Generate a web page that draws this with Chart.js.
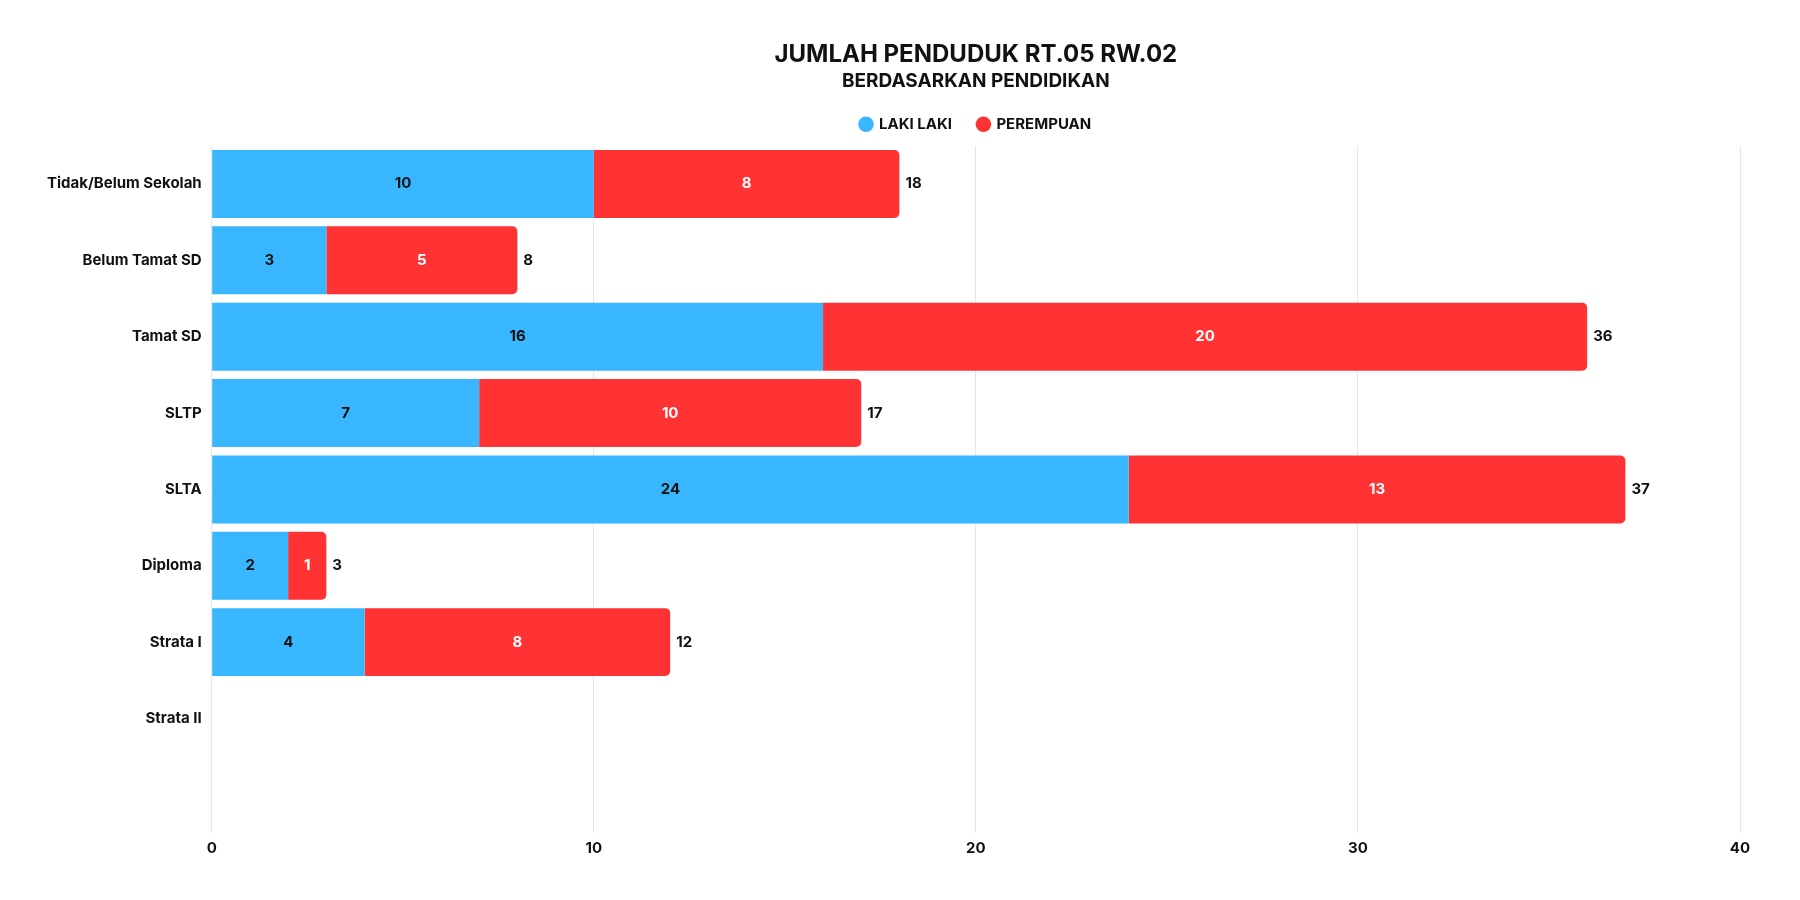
<!DOCTYPE html>
<html>
<head>
<meta charset="utf-8">
<title>Jumlah Penduduk RT.05 RW.02</title>
<script src="https://cdn.jsdelivr.net/npm/chart.js@4.4.1/dist/chart.umd.min.js"></script>
<style>
    html, body { margin: 0; padding: 0; background: #ffffff; }
    #wadah { width: 1800px; height: 900px; position: relative; }
</style>
</head>
<body>
<div id="wadah">
    <canvas id="grafikPendidikan"></canvas>
</div>
<script>
// data
const kategori = ['Tidak/Belum Sekolah', 'Belum Tamat SD', 'Tamat SD', 'SLTP', 'SLTA', 'Diploma', 'Strata I', 'Strata II', ''];
const lakiLaki = [10, 3, 16, 7, 24, 2, 4, 0, null];
const perempuan = [8, 5, 20, 10, 13, 1, 8, 0, null];
const tickSumbuX = [0, 10, 20, 30, 40];

const BIRU = '#38b6ff';
const MERAH = '#ff3333';
const HURUF = 'Inter';

// plugin kecil untuk label angka (tidak ada datalabels di sandbox)
const labelAngka = {
    id: 'labelAngka',
    afterDatasetsDraw(chart) {
        const ctx = chart.ctx;
        ctx.save();
        ctx.font = 'bold 15px ' + HURUF;
        ctx.textBaseline = 'middle';
        chart.data.datasets.forEach((ds, i) => {
            const meta = chart.getDatasetMeta(i);
            meta.data.forEach((bar, j) => {
                const v = ds.data[j];
                if (!v) return;
                const p = bar.getProps(['x', 'y', 'base'], true);
                ctx.textAlign = 'center';
                ctx.fillStyle = i === 0 ? '#111111' : '#ffffff';
                ctx.fillText(v, (p.x + p.base) / 2, p.y);
            });
        });
        // total di ujung batang
        const metaAkhir = chart.getDatasetMeta(chart.data.datasets.length - 1);
        metaAkhir.data.forEach((bar, j) => {
            const total = (lakiLaki[j] || 0) + (perempuan[j] || 0);
            if (!total) return;
            const p = bar.getProps(['x', 'y'], true);
            ctx.textAlign = 'left';
            ctx.fillStyle = '#111111';
            ctx.fillText(total, p.x + 6, p.y);
        });
        ctx.restore();
    }
};

// beri jarak sedikit di bawah legenda
const jarakLegenda = {
    id: 'jarakLegenda',
    beforeInit(chart) {
        const fitAsli = chart.legend.fit;
        chart.legend.fit = function() {
            fitAsli.bind(chart.legend)();
            this.height += 4;
        };
    }
};

const ctx = document.getElementById('grafikPendidikan').getContext('2d');
new Chart(ctx, {
    type: 'bar',
    data: {
        labels: kategori,
        datasets: [
            {
                label: 'LAKI LAKI',
                data: lakiLaki,
                backgroundColor: BIRU,
                borderWidth: 0,
                borderRadius: 0
            },
            {
                label: 'PEREMPUAN',
                data: perempuan,
                backgroundColor: MERAH,
                borderWidth: 0,
                borderRadius: { topLeft: 0, bottomLeft: 0, topRight: 5, bottomRight: 5 }
            }
        ]
    },
    options: {
        indexAxis: 'y',
        responsive: true,
        maintainAspectRatio: false,
        animation: false,
        categoryPercentage: 1,
        barPercentage: 0.89,
        layout: {
            padding: { top: 40, left: 45, right: 60, bottom: 37 }
        },
        plugins: {
            title: {
                display: true,
                fullSize: false,
                text: 'JUMLAH PENDUDUK RT.05 RW.02',
                color: '#111111',
                font: { family: HURUF, size: 24, weight: 'bold' },
                padding: { top: 0, bottom: 3 }
            },
            subtitle: {
                display: true,
                fullSize: false,
                text: 'BERDASARKAN PENDIDIKAN',
                color: '#111111',
                font: { family: HURUF, size: 19, weight: 'bold', lineHeight: 1 },
                padding: { top: 0, bottom: 0 }
            },
            legend: {
                display: true,
                fullSize: false,
                labels: {
                    usePointStyle: true,
                    pointStyle: 'circle',
                    boxWidth: 11,
                    boxHeight: 11,
                    padding: 26,
                    color: '#111111',
                    font: { family: HURUF, size: 15, weight: 'bold' }
                }
            },
            tooltip: { enabled: false }
        },
        scales: {
            x: {
                stacked: true,
                min: 0,
                max: 40,
                afterBuildTicks(axis) {
                    axis.ticks = tickSumbuX.map(v => ({ value: v }));
                },
                border: { display: false },
                grid: { color: '#e6e6e6', drawTicks: false },
                ticks: {
                    padding: 6,
                    color: '#111111',
                    font: { family: HURUF, size: 15, weight: 'bold' }
                }
            },
            y: {
                stacked: true,
                border: { display: false },
                grid: { display: false },
                ticks: {
                    padding: 2,
                    color: '#111111',
                    font: { family: HURUF, size: 15, weight: 'bold' }
                }
            }
        }
    },
    plugins: [labelAngka, jarakLegenda]
});
</script>
</body>
</html>
